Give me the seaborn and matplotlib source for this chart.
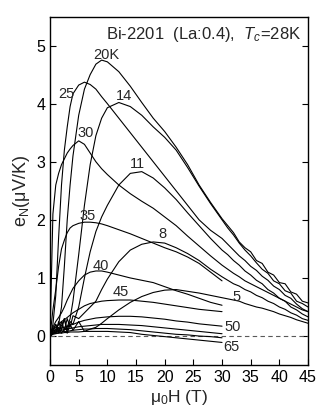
import matplotlib
matplotlib.use('Agg')
import matplotlib.pyplot as plt
import seaborn as sns

# field grids (T): curves measured up to 45 T and up to 30 T
H45 = [0, 0.5, 1, 1.5, 2, 2.5, 3, 3.5, 4, 5, 6, 7, 8, 9, 10,
       12, 14, 16, 18, 20, 22, 24, 26, 28, 30,
       31, 32, 33, 34, 35, 36, 37, 38, 39, 40, 41, 42, 43, 44, 45]
H30 = H45[:25]

# Nernst signal e_N (uV/K)
e5 = [0, 0.15, 0.05, 0.25, 0.1, 0.3, 0.05, 0.2, 0.1, 0.25, 0.08, 0.12, 0.15, 0.22, 0.3,
      0.45, 0.58, 0.68, 0.75, 0.79, 0.8, 0.77, 0.74, 0.7, 0.66,
      0.64, 0.62, 0.6, 0.56, 0.53, 0.5, 0.48, 0.45, 0.42, 0.38, 0.35, 0.32, 0.28, 0.25, 0.22]
e8 = [0, 0.1, 0.2, 0.08, 0.25, 0.1, 0.3, 0.15, 0.35, 0.3, 0.4, 0.5, 0.6, 0.8, 0.98,
      1.28, 1.48, 1.58, 1.62, 1.6, 1.52, 1.42, 1.3, 1.15, 1.02,
      0.96, 0.9, 0.86, 0.8, 0.76, 0.7, 0.66, 0.6, 0.56, 0.5, 0.46, 0.4, 0.36, 0.3, 0.27]
e11 = [0, 0.1, 0.2, 0.05, 0.18, 0.3, 0.1, 0.25, 0.2, 0.5, 1.0, 1.45, 1.8, 2.05, 2.25,
       2.6, 2.8, 2.83, 2.72, 2.55, 2.35, 2.12, 1.9, 1.68, 1.48,
       1.4, 1.3, 1.22, 1.12, 1.05, 0.96, 0.9, 0.8, 0.74, 0.65, 0.6, 0.5, 0.45, 0.38, 0.33]
e14 = [0, 0.1, 0.05, 0.15, 0.05, 0.12, 0.15, 0.3, 0.6, 1.4, 2.25, 2.95, 3.45, 3.75, 3.93,
       4.02, 3.95, 3.8, 3.6, 3.42, 3.2, 2.9, 2.58, 2.28, 2.0,
       1.86, 1.74, 1.6, 1.48, 1.38, 1.26, 1.15, 1.08, 0.95, 0.9, 0.78, 0.74, 0.6, 0.56, 0.5]
e20 = [0, 0.05, 0.12, 0.2, 0.5, 1.2, 2.0, 2.6, 3.1, 3.8, 4.25, 4.5, 4.68, 4.75, 4.72,
       4.55, 4.3, 4.02, 3.75, 3.52, 3.25, 2.95, 2.6, 2.3, 2.02,
       1.9, 1.78, 1.62, 1.52, 1.45, 1.3, 1.25, 1.1, 1.05, 0.92, 0.9, 0.76, 0.72, 0.6, 0.57]
e25 = [0, 0.2, 0.7, 1.7, 2.6, 3.2, 3.6, 3.95, 4.17, 4.32, 4.37, 4.33, 4.25, 4.12, 4.0,
       3.75, 3.5, 3.25, 3.0, 2.75, 2.5, 2.25, 2.0, 1.82, 1.68,
       1.58, 1.48, 1.38, 1.3, 1.2, 1.13, 1.03, 0.96, 0.86, 0.8, 0.7, 0.65, 0.55, 0.47, 0.42]
e30 = [0, 2.1, 2.6, 2.8, 2.95, 3.05, 3.15, 3.22, 3.28, 3.36, 3.3, 3.15, 3.0, 2.88, 2.78,
       2.6, 2.45, 2.32, 2.2, 2.05, 1.9, 1.72, 1.55, 1.38, 1.22,
       1.15, 1.08, 1.02, 0.95, 0.9, 0.85, 0.8, 0.75, 0.7, 0.65, 0.6, 0.55, 0.5, 0.45, 0.42]
e35 = [0, 0.45, 0.8, 1.2, 1.5, 1.65, 1.78, 1.86, 1.9, 1.94, 1.96, 1.96, 1.95, 1.93, 1.9,
       1.83, 1.76, 1.68, 1.6, 1.52, 1.45, 1.36, 1.25, 1.1, 0.95]
e40 = [0, 0.15, 0.25, 0.32, 0.4, 0.5, 0.62, 0.72, 0.82, 0.95, 1.05, 1.1, 1.12, 1.12, 1.1,
       1.05, 1.0, 0.96, 0.92, 0.85, 0.78, 0.72, 0.65, 0.58, 0.53]
e45 = [0, 0.1, 0.15, 0.2, 0.25, 0.28, 0.32, 0.36, 0.4, 0.46, 0.52, 0.56, 0.58, 0.6, 0.61,
       0.62, 0.62, 0.6, 0.58, 0.55, 0.52, 0.49, 0.46, 0.44, 0.42]
e50 = [0, 0.08, 0.1, 0.12, 0.14, 0.15, 0.17, 0.19, 0.2, 0.24, 0.27, 0.29, 0.31, 0.32, 0.33,
       0.34, 0.34, 0.33, 0.31, 0.29, 0.26, 0.24, 0.21, 0.19, 0.17]
e55 = [0, 0.05, 0.07, 0.08, 0.1, 0.11, 0.12, 0.13, 0.14, 0.16, 0.17, 0.18, 0.19, 0.2, 0.2,
       0.2, 0.19, 0.18, 0.16, 0.14, 0.12, 0.1, 0.08, 0.06, 0.04]
e60 = [0, 0.04, 0.05, 0.06, 0.07, 0.08, 0.08, 0.09, 0.1, 0.11, 0.12, 0.12, 0.13, 0.13, 0.13,
       0.12, 0.11, 0.09, 0.07, 0.05, 0.03, 0.02, 0.0, -0.01, -0.03]
e65 = [0, 0.03, 0.04, 0.05, 0.05, 0.06, 0.06, 0.07, 0.07, 0.07, 0.08, 0.08, 0.08, 0.08, 0.08,
       0.07, 0.06, 0.03, 0.01, -0.01, -0.03, -0.05, -0.07, -0.09, -0.11]

# curve labels (temperature text, field, e_N)
lab_text = ['20K', '25', '14', '30', '11', '35', '8', '40', '45', '5', '50', '65']
lab_H = [9.8, 2.8, 12.9, 6.3, 15.2, 6.6, 19.6, 8.9, 12.4, 32.5, 31.8, 31.6]
lab_e = [4.84, 4.16, 4.13, 3.49, 2.97, 2.06, 1.75, 1.2, 0.75, 0.68, 0.15, -0.18]

sns.set_style('ticks')
plt.rcParams['font.family'] = ['Liberation Sans', 'DejaVu Sans']
plt.rcParams['mathtext.fontset'] = 'custom'
plt.rcParams['mathtext.rm'] = 'Liberation Sans'
plt.rcParams['mathtext.it'] = 'Liberation Sans:italic'

fig = plt.figure(figsize=(3.27, 4.13), dpi=100)
ax = fig.add_axes([0.153, 0.116, 0.789, 0.844])

ax.axhline(0, color='0.35', lw=0.8, ls=(0, (4, 3)), zorder=1)

for vals in [e5, e8, e11, e14, e20, e25, e30]:
    sns.lineplot(x=H45, y=vals, ax=ax, color='black', lw=0.8, estimator=None, sort=False)
for vals in [e35, e40, e45, e50, e55, e60, e65]:
    sns.lineplot(x=H30, y=vals, ax=ax, color='black', lw=0.8, estimator=None, sort=False)

for t, h, e in zip(lab_text, lab_H, lab_e):
    ax.text(h, e, t, fontsize=10.5, ha='center', va='center')

ax.text(0.975, 0.975, 'Bi-2201  (La:0.4),  $T_c$=28K', transform=ax.transAxes,
        ha='right', va='top', fontsize=12)

ax.set_xlim(0, 45)
ax.set_ylim(-0.5, 5.5)
ax.set_xticks(range(0, 50, 5))
ax.set_yticks(range(0, 6))
ax.tick_params(direction='in', right=True, length=4, width=0.8, labelsize=11.5, colors='black')
for s in ax.spines.values():
    s.set_color('black')
    s.set_linewidth(1.0)
ax.set_xlabel('μ$_0$H (T)', fontsize=12.5, labelpad=2)
ax.set_ylabel('e$_\\mathrm{N}$(μV/K)', fontsize=13, labelpad=3)

fig.savefig('out.png', dpi=100)
